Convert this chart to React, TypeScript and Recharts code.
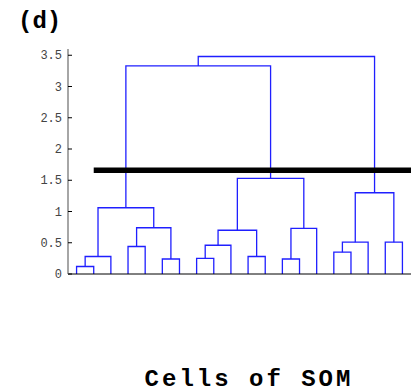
import { LineChart, Line, XAxis, YAxis } from 'recharts';

// leaves sit at x = 1..20, in dendrogram order
const leafCount = 20;

// linkage rows: [left, right, height]; index < 20 is a leaf, >= 20 an earlier merge
const linkage: [number, number, number][] = [
  [0, 1, 0.12],
  [20, 2, 0.28],
  [3, 4, 0.44],
  [5, 6, 0.24],
  [22, 23, 0.74],
  [21, 24, 1.06],
  [7, 8, 0.25],
  [26, 9, 0.46],
  [10, 11, 0.28],
  [27, 28, 0.7],
  [12, 13, 0.24],
  [30, 14, 0.73],
  [29, 31, 1.53],
  [25, 32, 3.33],
  [15, 16, 0.35],
  [34, 17, 0.51],
  [18, 19, 0.51],
  [35, 36, 1.3],
  [33, 37, 3.48],
];

const cutHeight = 1.66;
const cutFrom = 2;
const cutTo = 20.5;

const yTicks = [0, 0.5, 1, 1.5, 2, 2.5, 3, 3.5];

// build the U-shaped link for every merge
const nodeX: number[] = [];
const nodeH: number[] = [];
for (let i = 0; i < leafCount; i++) {
  nodeX.push(i + 1);
  nodeH.push(0);
}
const links = linkage.map(([a, b, h]) => {
  const pts = [
    { x: nodeX[a], y: nodeH[a] },
    { x: nodeX[a], y: h },
    { x: nodeX[b], y: h },
    { x: nodeX[b], y: nodeH[b] },
  ];
  nodeX.push((nodeX[a] + nodeX[b]) / 2);
  nodeH.push(h);
  return pts;
});

const cutLine = [
  { x: cutFrom, y: cutHeight },
  { x: cutTo, y: cutHeight },
];

const mono = '"Liberation Mono", "DejaVu Sans Mono", monospace';

function YTick(props: any) {
  const { x, y, payload } = props;
  const axisX = x + 6;
  return (
    <g>
      <line x1={axisX} y1={y} x2={axisX + 4} y2={y} stroke="#000" strokeWidth={1} />
      <text x={x} y={y} dy={4} textAnchor="end" fontFamily={mono} fontSize={12} fill="#444">
        {payload.value}
      </text>
    </g>
  );
}

export default function App() {
  return (
    <div style={{ position: 'absolute', left: 0, top: 0, width: 416, height: 392, background: '#fff' }}>
      <LineChart
        width={416}
        height={392}
        margin={{ top: 49, right: 5, left: 0, bottom: 117 }}
      >
        <XAxis
          type="number"
          dataKey="x"
          domain={[0.5, 20.5]}
          tick={false}
          tickLine={false}
          axisLine={{ stroke: '#000', strokeWidth: 1 }}
          height={1}
        />
        <YAxis
          type="number"
          dataKey="y"
          domain={[0, 3.6]}
          ticks={yTicks}
          width={68}
          tickSize={0}
          tickMargin={6}
          tickLine={false}
          axisLine={{ stroke: '#888', strokeWidth: 1.5 }}
          tick={<YTick />}
        />
        {links.map((pts, i) => (
          <Line
            key={i}
            data={pts}
            dataKey="y"
            type="linear"
            stroke="#1f1fff"
            strokeWidth={1.3}
            dot={false}
            activeDot={false}
            isAnimationActive={false}
          />
        ))}
        <Line
          data={cutLine}
          dataKey="y"
          type="linear"
          stroke="#000"
          strokeWidth={5.5}
          dot={false}
          activeDot={false}
          isAnimationActive={false}
        />
      </LineChart>
      <svg width={416} height={392} style={{ position: 'absolute', left: 0, top: 0, pointerEvents: 'none' }}>
        <text x={18} y={28} fontFamily={mono} fontWeight="bold" fontSize={24} fill="#000">
          (d)
        </text>
        <text x={249} y={386} textAnchor="middle" fontFamily={mono} fontWeight="bold" fontSize={24} letterSpacing={3} fill="#000">
          Cells of SOM
        </text>
      </svg>
    </div>
  );
}
